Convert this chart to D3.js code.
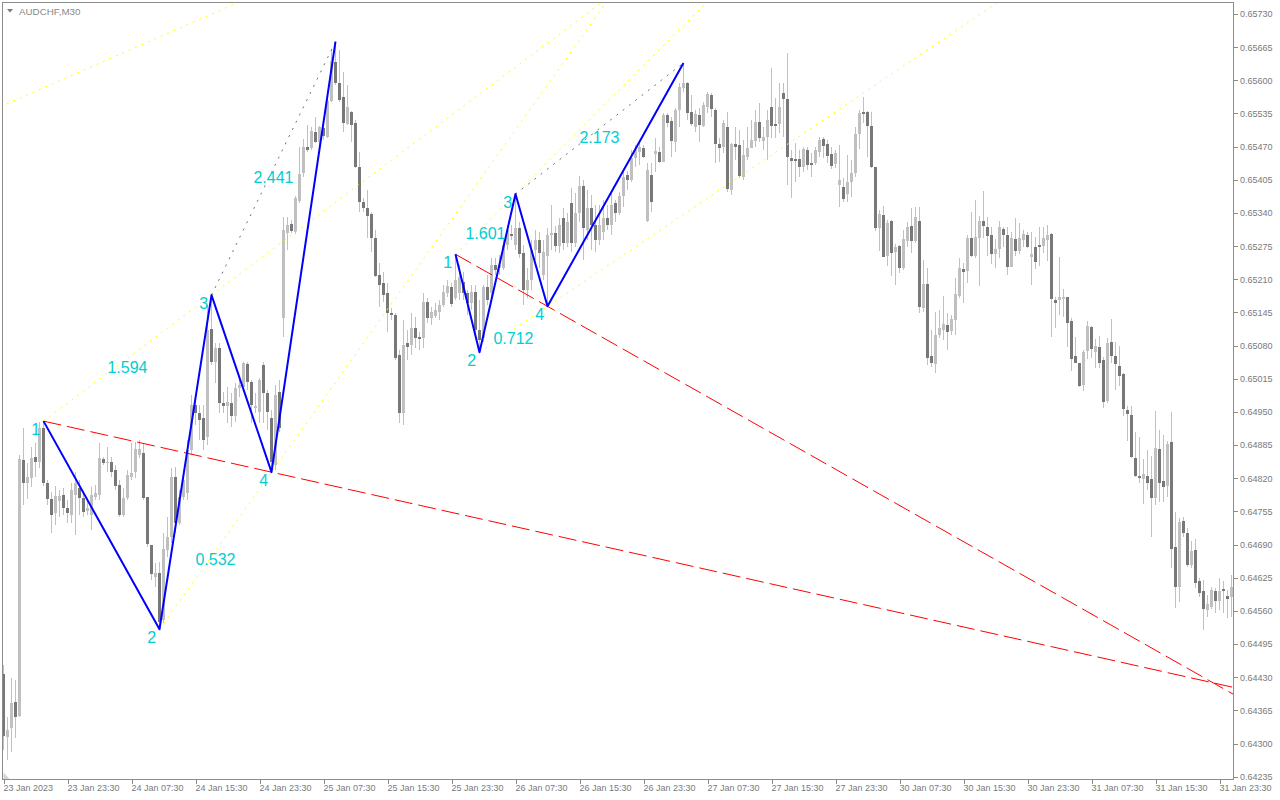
<!DOCTYPE html>
<html><head><meta charset="utf-8">
<script src="https://cdn.jsdelivr.net/npm/d3@7"></script>
<style>html,body{margin:0;padding:0;background:#fff;}svg{display:block;}</style>
</head><body>
<svg id="chart" width="1280" height="800"></svg>
<script>
const symbolTitle = "AUDCHF,M30";

const opens = [0.64436,0.64312,0.64330,0.64381,0.64354,0.64855,0.64810,0.64820,0.64861,0.64851,0.64918,0.64810,0.64779,0.64752,0.64775,0.64787,0.64761,0.64748,0.64787,0.64801,0.64781,0.64755,0.64748,0.64783,0.64787,0.64857,0.64850,0.64851,0.64836,0.64806,0.64748,0.64781,0.64822,0.64832,0.64865,0.64869,0.64783,0.64689,0.64626,0.64635,0.64542,0.64679,0.64704,0.64822,0.64732,0.64783,0.64791,0.64875,0.64963,0.64948,0.64938,0.64900,0.65112,0.65047,0.65075,0.64967,0.64961,0.64967,0.64942,0.64997,0.64998,0.65044,0.65008,0.64957,0.64949,0.65042,0.64987,0.64938,0.64846,0.64989,0.65134,0.65300,0.65318,0.65302,0.65363,0.65418,0.65469,0.65467,0.65498,0.65479,0.65506,0.65488,0.65559,0.65635,0.65594,0.65567,0.65514,0.65537,0.65516,0.65430,0.65361,0.65349,0.65338,0.65291,0.65218,0.65202,0.65183,0.65144,0.65140,0.65061,0.64948,0.65085,0.65081,0.65114,0.65096,0.65095,0.65165,0.65134,0.65138,0.65145,0.65159,0.65183,0.65194,0.65173,0.65183,0.65204,0.65183,0.65163,0.65185,0.65110,0.65095,0.65194,0.65183,0.65238,0.65232,0.65232,0.65277,0.65298,0.65277,0.65310,0.65261,0.65189,0.65208,0.65267,0.65287,0.65218,0.65255,0.65296,0.65300,0.65275,0.65330,0.65281,0.65359,0.65281,0.65340,0.65392,0.65306,0.65349,0.65316,0.65287,0.65302,0.65330,0.65316,0.65359,0.65340,0.65373,0.65414,0.65404,0.65447,0.65459,0.65467,0.65324,0.65414,0.65455,0.65459,0.65439,0.65532,0.65520,0.65479,0.65541,0.65585,0.65594,0.65537,0.65508,0.65532,0.65510,0.65547,0.65571,0.65541,0.65475,0.65469,0.65508,0.65385,0.65475,0.65473,0.65410,0.65449,0.65467,0.65481,0.65518,0.65481,0.65488,0.65547,0.65514,0.65514,0.65575,0.65563,0.65447,0.65445,0.65445,0.65430,0.65463,0.65438,0.65438,0.65459,0.65485,0.65475,0.65455,0.65436,0.65394,0.65390,0.65377,0.65400,0.65418,0.65494,0.65537,0.65537,0.65510,0.65430,0.65310,0.65336,0.65255,0.65324,0.65263,0.65275,0.65232,0.65285,0.65314,0.65285,0.65324,0.65153,0.65200,0.65059,0.65044,0.65100,0.65110,0.65120,0.65108,0.65130,0.65177,0.65230,0.65226,0.65291,0.65255,0.65291,0.65324,0.65312,0.65296,0.65259,0.65269,0.65308,0.65296,0.65234,0.65289,0.65265,0.65287,0.65296,0.65253,0.65273,0.65277,0.65275,0.65287,0.65298,0.65169,0.65169,0.65171,0.65175,0.65128,0.65059,0.65046,0.65002,0.65069,0.65116,0.65067,0.65077,0.65051,0.64971,0.65087,0.65059,0.65040,0.65024,0.64953,0.64944,0.64859,0.64824,0.64818,0.64824,0.64818,0.64781,0.64877,0.64814,0.64804,0.64891,0.64685,0.64606,0.64736,0.64712,0.64650,0.64679,0.64618,0.64599,0.64561,0.64567,0.64599,0.64579,0.64603,0.64589,0.64587];

const highs = [0.64454,0.64352,0.64428,0.64424,0.64865,0.64918,0.64850,0.64881,0.64889,0.64930,0.64932,0.64816,0.64793,0.64804,0.64797,0.64801,0.64777,0.64810,0.64832,0.64816,0.64793,0.64777,0.64802,0.64806,0.64889,0.64861,0.64881,0.64861,0.64846,0.64816,0.64801,0.64836,0.64889,0.64891,0.64895,0.64889,0.64783,0.64689,0.64654,0.64655,0.64712,0.64744,0.64840,0.64842,0.64797,0.64836,0.64895,0.64983,0.64977,0.64963,0.64963,0.65159,0.65179,0.65085,0.65085,0.64989,0.64998,0.64987,0.65006,0.65018,0.65047,0.65047,0.65012,0.64987,0.65016,0.65047,0.64993,0.64953,0.65002,0.65012,0.65332,0.65332,0.65326,0.65373,0.65469,0.65485,0.65512,0.65508,0.65528,0.65510,0.65512,0.65577,0.65659,0.65676,0.65659,0.65616,0.65590,0.65539,0.65522,0.65459,0.65369,0.65385,0.65341,0.65306,0.65242,0.65224,0.65202,0.65153,0.65144,0.65071,0.65130,0.65110,0.65144,0.65136,0.65106,0.65183,0.65173,0.65155,0.65163,0.65169,0.65198,0.65208,0.65202,0.65259,0.65238,0.65224,0.65189,0.65198,0.65198,0.65169,0.65198,0.65218,0.65251,0.65251,0.65257,0.65291,0.65316,0.65316,0.65377,0.65322,0.65277,0.65232,0.65287,0.65306,0.65302,0.65287,0.65310,0.65355,0.65314,0.65330,0.65349,0.65340,0.65389,0.65379,0.65412,0.65404,0.65385,0.65375,0.65355,0.65355,0.65365,0.65355,0.65385,0.65365,0.65381,0.65424,0.65422,0.65463,0.65473,0.65483,0.65473,0.65438,0.65438,0.65487,0.65469,0.65536,0.65536,0.65528,0.65545,0.65594,0.65634,0.65596,0.65571,0.65541,0.65545,0.65557,0.65577,0.65575,0.65545,0.65487,0.65522,0.65537,0.65477,0.65508,0.65502,0.65483,0.65508,0.65522,0.65541,0.65555,0.65508,0.65541,0.65624,0.65565,0.65594,0.65594,0.65653,0.65463,0.65477,0.65463,0.65469,0.65469,0.65457,0.65469,0.65488,0.65488,0.65483,0.65469,0.65463,0.65473,0.65408,0.65453,0.65443,0.65508,0.65541,0.65567,0.65539,0.65537,0.65430,0.65345,0.65353,0.65326,0.65326,0.65279,0.65277,0.65306,0.65322,0.65349,0.65351,0.65351,0.65247,0.65232,0.65110,0.65145,0.65149,0.65177,0.65144,0.65140,0.65212,0.65251,0.65242,0.65296,0.65341,0.65365,0.65334,0.65383,0.65332,0.65312,0.65289,0.65324,0.65312,0.65312,0.65302,0.65330,0.65320,0.65306,0.65302,0.65302,0.65292,0.65312,0.65312,0.65316,0.65300,0.65175,0.65253,0.65191,0.65175,0.65134,0.65096,0.65046,0.65071,0.65128,0.65118,0.65093,0.65098,0.65057,0.65095,0.65132,0.65087,0.65079,0.65026,0.64961,0.64961,0.64910,0.64900,0.64857,0.64875,0.64863,0.64951,0.64914,0.64904,0.64893,0.64949,0.64753,0.64742,0.64744,0.64722,0.64697,0.64701,0.64624,0.64620,0.64591,0.64606,0.64605,0.64624,0.64618,0.64601,0.64630];

const lows = [0.64287,0.64267,0.64283,0.64311,0.64352,0.64767,0.64779,0.64802,0.64822,0.64840,0.64804,0.64767,0.64712,0.64728,0.64744,0.64748,0.64732,0.64732,0.64708,0.64748,0.64744,0.64748,0.64718,0.64777,0.64777,0.64846,0.64832,0.64822,0.64797,0.64744,0.64744,0.64777,0.64816,0.64820,0.64859,0.64777,0.64685,0.64620,0.64606,0.64524,0.64536,0.64665,0.64693,0.64712,0.64728,0.64777,0.64777,0.64865,0.64924,0.64895,0.64875,0.64885,0.65042,0.65006,0.64948,0.64948,0.64928,0.64920,0.64930,0.64979,0.64993,0.64993,0.64928,0.64948,0.64928,0.64928,0.64914,0.64832,0.64836,0.64910,0.65096,0.65267,0.65300,0.65298,0.65359,0.65410,0.65459,0.65463,0.65477,0.65457,0.65483,0.65487,0.65557,0.65590,0.65557,0.65498,0.65512,0.65479,0.65428,0.65341,0.65341,0.65291,0.65263,0.65214,0.65155,0.65165,0.65106,0.65130,0.65051,0.64928,0.64924,0.65051,0.65061,0.65075,0.65071,0.65075,0.65124,0.65120,0.65134,0.65130,0.65155,0.65175,0.65155,0.65169,0.65169,0.65169,0.65140,0.65149,0.65100,0.65067,0.65087,0.65159,0.65169,0.65218,0.65218,0.65228,0.65267,0.65287,0.65267,0.65251,0.65159,0.65173,0.65189,0.65247,0.65232,0.65208,0.65157,0.65267,0.65263,0.65261,0.65267,0.65273,0.65263,0.65273,0.65322,0.65247,0.65287,0.65267,0.65263,0.65277,0.65287,0.65306,0.65296,0.65322,0.65336,0.65351,0.65385,0.65400,0.65430,0.65434,0.65447,0.65322,0.65341,0.65420,0.65438,0.65439,0.65508,0.65449,0.65459,0.65508,0.65577,0.65522,0.65510,0.65498,0.65479,0.65508,0.65536,0.65528,0.65438,0.65439,0.65457,0.65381,0.65375,0.65443,0.65408,0.65404,0.65443,0.65467,0.65469,0.65479,0.65463,0.65443,0.65487,0.65487,0.65496,0.65488,0.65394,0.65369,0.65400,0.65410,0.65420,0.65424,0.65410,0.65434,0.65449,0.65447,0.65438,0.65426,0.65428,0.65351,0.65361,0.65361,0.65371,0.65410,0.65465,0.65516,0.65449,0.65428,0.65304,0.65265,0.65253,0.65236,0.65216,0.65198,0.65222,0.65228,0.65273,0.65261,0.65281,0.65144,0.65145,0.65042,0.65038,0.65026,0.65095,0.65091,0.65071,0.65100,0.65100,0.65173,0.65163,0.65202,0.65253,0.65251,0.65196,0.65291,0.65255,0.65240,0.65232,0.65251,0.65273,0.65218,0.65234,0.65255,0.65259,0.65273,0.65271,0.65198,0.65230,0.65236,0.65261,0.65245,0.65096,0.65114,0.65140,0.65136,0.65077,0.65030,0.65046,0.64998,0.64991,0.65053,0.65055,0.65036,0.65036,0.64957,0.64967,0.65046,0.64993,0.65000,0.64942,0.64893,0.64859,0.64822,0.64810,0.64769,0.64797,0.64704,0.64767,0.64773,0.64773,0.64783,0.64644,0.64565,0.64577,0.64704,0.64646,0.64644,0.64605,0.64587,0.64522,0.64548,0.64563,0.64556,0.64561,0.64556,0.64546,0.64548];

const closes = [0.64314,0.64326,0.64379,0.64352,0.64857,0.64810,0.64822,0.64859,0.64851,0.64918,0.64810,0.64779,0.64748,0.64785,0.64785,0.64761,0.64752,0.64797,0.64810,0.64781,0.64753,0.64761,0.64787,0.64791,0.64859,0.64850,0.64851,0.64832,0.64804,0.64748,0.64781,0.64826,0.64830,0.64877,0.64877,0.64781,0.64691,0.64632,0.64634,0.64538,0.64681,0.64704,0.64822,0.64732,0.64783,0.64816,0.64875,0.64963,0.64948,0.64934,0.64895,0.65110,0.65047,0.65075,0.64967,0.64961,0.64969,0.64942,0.64997,0.65002,0.65046,0.65008,0.64963,0.64961,0.65012,0.64987,0.64949,0.64851,0.64983,0.64918,0.65306,0.65316,0.65304,0.65369,0.65416,0.65469,0.65463,0.65500,0.65479,0.65508,0.65490,0.65559,0.65637,0.65594,0.65561,0.65516,0.65547,0.65512,0.65430,0.65361,0.65349,0.65334,0.65291,0.65216,0.65198,0.65179,0.65144,0.65140,0.65055,0.64948,0.65081,0.65077,0.65114,0.65095,0.65093,0.65165,0.65134,0.65145,0.65149,0.65159,0.65185,0.65196,0.65161,0.65208,0.65214,0.65183,0.65163,0.65185,0.65110,0.65091,0.65194,0.65169,0.65238,0.65228,0.65238,0.65277,0.65306,0.65294,0.65310,0.65259,0.65189,0.65208,0.65267,0.65287,0.65261,0.65263,0.65296,0.65300,0.65275,0.65316,0.65281,0.65322,0.65281,0.65340,0.65392,0.65310,0.65349,0.65316,0.65287,0.65316,0.65330,0.65316,0.65355,0.65340,0.65373,0.65410,0.65404,0.65447,0.65463,0.65469,0.65449,0.65424,0.65361,0.65461,0.65439,0.65532,0.65516,0.65481,0.65541,0.65586,0.65594,0.65536,0.65514,0.65534,0.65512,0.65551,0.65573,0.65543,0.65475,0.65467,0.65516,0.65387,0.65475,0.65469,0.65412,0.65453,0.65467,0.65483,0.65518,0.65487,0.65488,0.65522,0.65510,0.65510,0.65547,0.65563,0.65449,0.65441,0.65441,0.65430,0.65465,0.65434,0.65434,0.65463,0.65483,0.65471,0.65451,0.65432,0.65457,0.65404,0.65367,0.65400,0.65418,0.65494,0.65536,0.65534,0.65510,0.65430,0.65310,0.65338,0.65253,0.65320,0.65261,0.65273,0.65232,0.65289,0.65312,0.65285,0.65332,0.65155,0.65200,0.65055,0.65046,0.65100,0.65114,0.65122,0.65106,0.65132,0.65181,0.65232,0.65224,0.65291,0.65255,0.65292,0.65324,0.65314,0.65294,0.65259,0.65269,0.65312,0.65296,0.65234,0.65291,0.65265,0.65291,0.65298,0.65273,0.65259,0.65243,0.65273,0.65291,0.65296,0.65171,0.65163,0.65175,0.65175,0.65124,0.65053,0.65046,0.65000,0.65067,0.65118,0.65073,0.65079,0.65046,0.64969,0.65085,0.65059,0.65044,0.65020,0.64955,0.64946,0.64861,0.64824,0.64820,0.64828,0.64810,0.64781,0.64879,0.64810,0.64802,0.64887,0.64681,0.64606,0.64734,0.64712,0.64650,0.64677,0.64614,0.64595,0.64563,0.64573,0.64601,0.64579,0.64599,0.64599,0.64583,0.64606];

const priceTicks = [0.65730,0.65665,0.65600,0.65535,0.65470,0.65405,0.65340,0.65275,0.65210,0.65145,0.65080,0.65015,0.64950,0.64885,0.64820,0.64755,0.64690,0.64625,0.64560,0.64495,0.64430,0.64365,0.64300,0.64235];
const timeTickBars = [0,16,32,48,64,80,96,112,128,144,160,176,192,208,224,240,256,272,288,304];
const timeTickLabels = ["23 Jan 2023","23 Jan 23:30","24 Jan 07:30","24 Jan 15:30","24 Jan 23:30","25 Jan 07:30","25 Jan 15:30","25 Jan 23:30","26 Jan 07:30","26 Jan 15:30","26 Jan 23:30","27 Jan 07:30","27 Jan 15:30","27 Jan 23:30","30 Jan 07:30","30 Jan 15:30","30 Jan 23:30","31 Jan 07:30","31 Jan 15:30","31 Jan 23:30"];

const wave1Bars = [10,39,52,67,83];
const wave1Prices = [0.64932,0.64524,0.65179,0.64832,0.65676];
const wave1Ratios = ["1.594","0.532","2.441"];
const wave2Bars = [113,119,128,136,170];
const wave2Prices = [0.65259,0.65067,0.65377,0.65157,0.65634];
const wave2Ratios = ["1.601","0.712","2.173"];
const pointLabels = ["1","2","3","4"];
const oldLineBars = [0,57];
const oldLinePrices = [0.65551,0.65747];

const L = 2.5, R = 1233.5, T = 2.5, B = 779.5;
const FONT = "'Liberation Sans', Arial, sans-serif";
const svg = d3.select("#chart");

const x = d3.scaleLinear().domain([-0.5, opens.length - 0.5]).range([1.5, 1.5 + 4 * opens.length]);
const y = d3.scaleLinear().domain([0.64235, 0.65730]).range([776.7, 14]);

svg.append("defs").append("clipPath").attr("id", "clip")
  .append("rect").attr("x", L + 0.5).attr("y", T + 0.5).attr("width", R - L - 1).attr("height", B - T - 1);

const plot = svg.append("g").attr("clip-path", "url(#clip)");

const candles = opens.map((o, i) => ({i, o, h: highs[i], l: lows[i], c: closes[i]}));

plot.append("g").selectAll("line").data(candles).join("line")
  .attr("x1", d => x(d.i)).attr("x2", d => x(d.i))
  .attr("y1", d => y(d.h)).attr("y2", d => y(d.l))
  .attr("stroke", "#c0c0c0").attr("stroke-width", 1)
  .attr("shape-rendering", "crispEdges");

plot.append("g").selectAll("rect").data(candles).join("rect")
  .attr("x", d => x(d.i) - 1.5).attr("width", 3)
  .attr("y", d => Math.min(y(d.o), y(d.c)))
  .attr("height", d => Math.max(1, Math.abs(y(d.o) - y(d.c))))
  .attr("fill", d => d.c >= d.o ? "#c0c0c0" : "#787878")
  .attr("shape-rendering", "crispEdges");

const line = d3.line().x(d => x(d[0])).y(d => y(d[1]));
function ray(b0, p0, b1, p1, bEnd) {
  const t = (bEnd - b0) / (b1 - b0);
  return [[b0, p0], [bEnd, p0 + (p1 - p0) * t]];
}

// older trend line at the top-left
plot.append("path")
  .attr("d", line([ray(oldLineBars[1], oldLinePrices[1], oldLineBars[0], oldLinePrices[0], -20)[1],
                   ray(oldLineBars[0], oldLinePrices[0], oldLineBars[1], oldLinePrices[1], 120)[1]]))
  .attr("fill", "none").attr("stroke", "#ffff00").attr("stroke-width", 1).attr("stroke-dasharray", "2,5");

const FAR = 600;
function drawWave(bars, prices, ratios) {
  const g = plot.append("g");
  g.append("path").attr("d", line(ray(bars[0], prices[0], bars[3], prices[3], FAR)))
    .attr("fill", "none").attr("stroke", "#ff0000").attr("stroke-width", 1).attr("stroke-dasharray", "18,6");
  g.append("path").attr("d", line(ray(bars[0], prices[0], bars[2], prices[2], FAR)))
    .attr("fill", "none").attr("stroke", "#ffff00").attr("stroke-width", 1).attr("stroke-dasharray", "2,5");
  g.append("path").attr("d", line(ray(bars[1], prices[1], bars[3], prices[3], FAR)))
    .attr("fill", "none").attr("stroke", "#ffff00").attr("stroke-width", 1).attr("stroke-dasharray", "2,5");
  g.append("path").attr("d", line([[bars[2], prices[2]], [bars[4], prices[4]]]))
    .attr("fill", "none").attr("stroke", "#707070").attr("stroke-width", 1).attr("stroke-dasharray", "2,6");
  g.append("path").attr("d", line(bars.map((b, k) => [b, prices[k]])))
    .attr("fill", "none").attr("stroke", "#0000ff").attr("stroke-width", 2).attr("stroke-linejoin", "round");
  g.selectAll("text.pt").data(pointLabels).join("text").attr("class", "pt")
    .attr("x", (d, k) => x(bars[k]) - 7.7).attr("y", (d, k) => y(prices[k]) + 13.7)
    .attr("text-anchor", "middle")
    .attr("font-family", FONT).attr("font-size", 16)
    .attr("fill", "#00ced1").text(d => d);
  const pairs = [[0, 2], [1, 3], [2, 4]];
  g.selectAll("text.ratio").data(pairs).join("text").attr("class", "ratio")
    .attr("x", p => (x(bars[p[0]]) + x(bars[p[1]])) / 2)
    .attr("y", p => (y(prices[p[0]]) + y(prices[p[1]])) / 2 + 14.7)
    .attr("text-anchor", "middle")
    .attr("font-family", FONT).attr("font-size", 16)
    .attr("fill", "#00ced1").text((p, k) => ratios[k]);
}
drawWave(wave1Bars, wave1Prices, wave1Ratios);
drawWave(wave2Bars, wave2Prices, wave2Ratios);

// frame
svg.append("rect").attr("x", L).attr("y", T).attr("width", R - L).attr("height", B - T)
  .attr("fill", "none").attr("stroke", "#8c8c8c").attr("stroke-width", 1);

svg.append("path").attr("d", `M${L+1},${B-7} L${L+1},${B-0.5} L${L+7},${B-0.5} Z`).attr("fill", "#d4d4d4");

// title
svg.append("path").attr("d", "M7,9 L13,9 L10,12.5 Z").attr("fill", "#7a7a7a");
svg.append("text").attr("x", 19).attr("y", 14.5)
  .attr("font-family", FONT).attr("font-size", 9.8)
  .attr("fill", "#8a8a8a").text(symbolTitle);

// price axis
const yAxis = d3.axisRight(y).tickValues(priceTicks).tickFormat(d3.format(".5f")).tickSize(4).tickPadding(2.5);
const ga = svg.append("g").attr("transform", `translate(${R},0)`).call(yAxis);
ga.select(".domain").remove();
ga.selectAll("line").attr("stroke", "#8c8c8c").attr("shape-rendering", "crispEdges");
ga.selectAll("text").attr("font-family", FONT).attr("font-size", 9).attr("fill", "#7a7a7a");

// time axis
const xAxis = d3.axisBottom(x).tickValues(timeTickBars).tickFormat((d, k) => timeTickLabels[k]).tickSize(4).tickPadding(1.5);
const gx = svg.append("g").attr("transform", `translate(0,${B})`).call(xAxis);
gx.select(".domain").remove();
gx.selectAll("line").attr("stroke", "#8c8c8c").attr("shape-rendering", "crispEdges");
gx.selectAll("text").attr("text-anchor", "start").attr("dx", -0.5)
  .attr("font-family", FONT).attr("font-size", 9).attr("fill", "#7a7a7a");
</script>
</body></html>
